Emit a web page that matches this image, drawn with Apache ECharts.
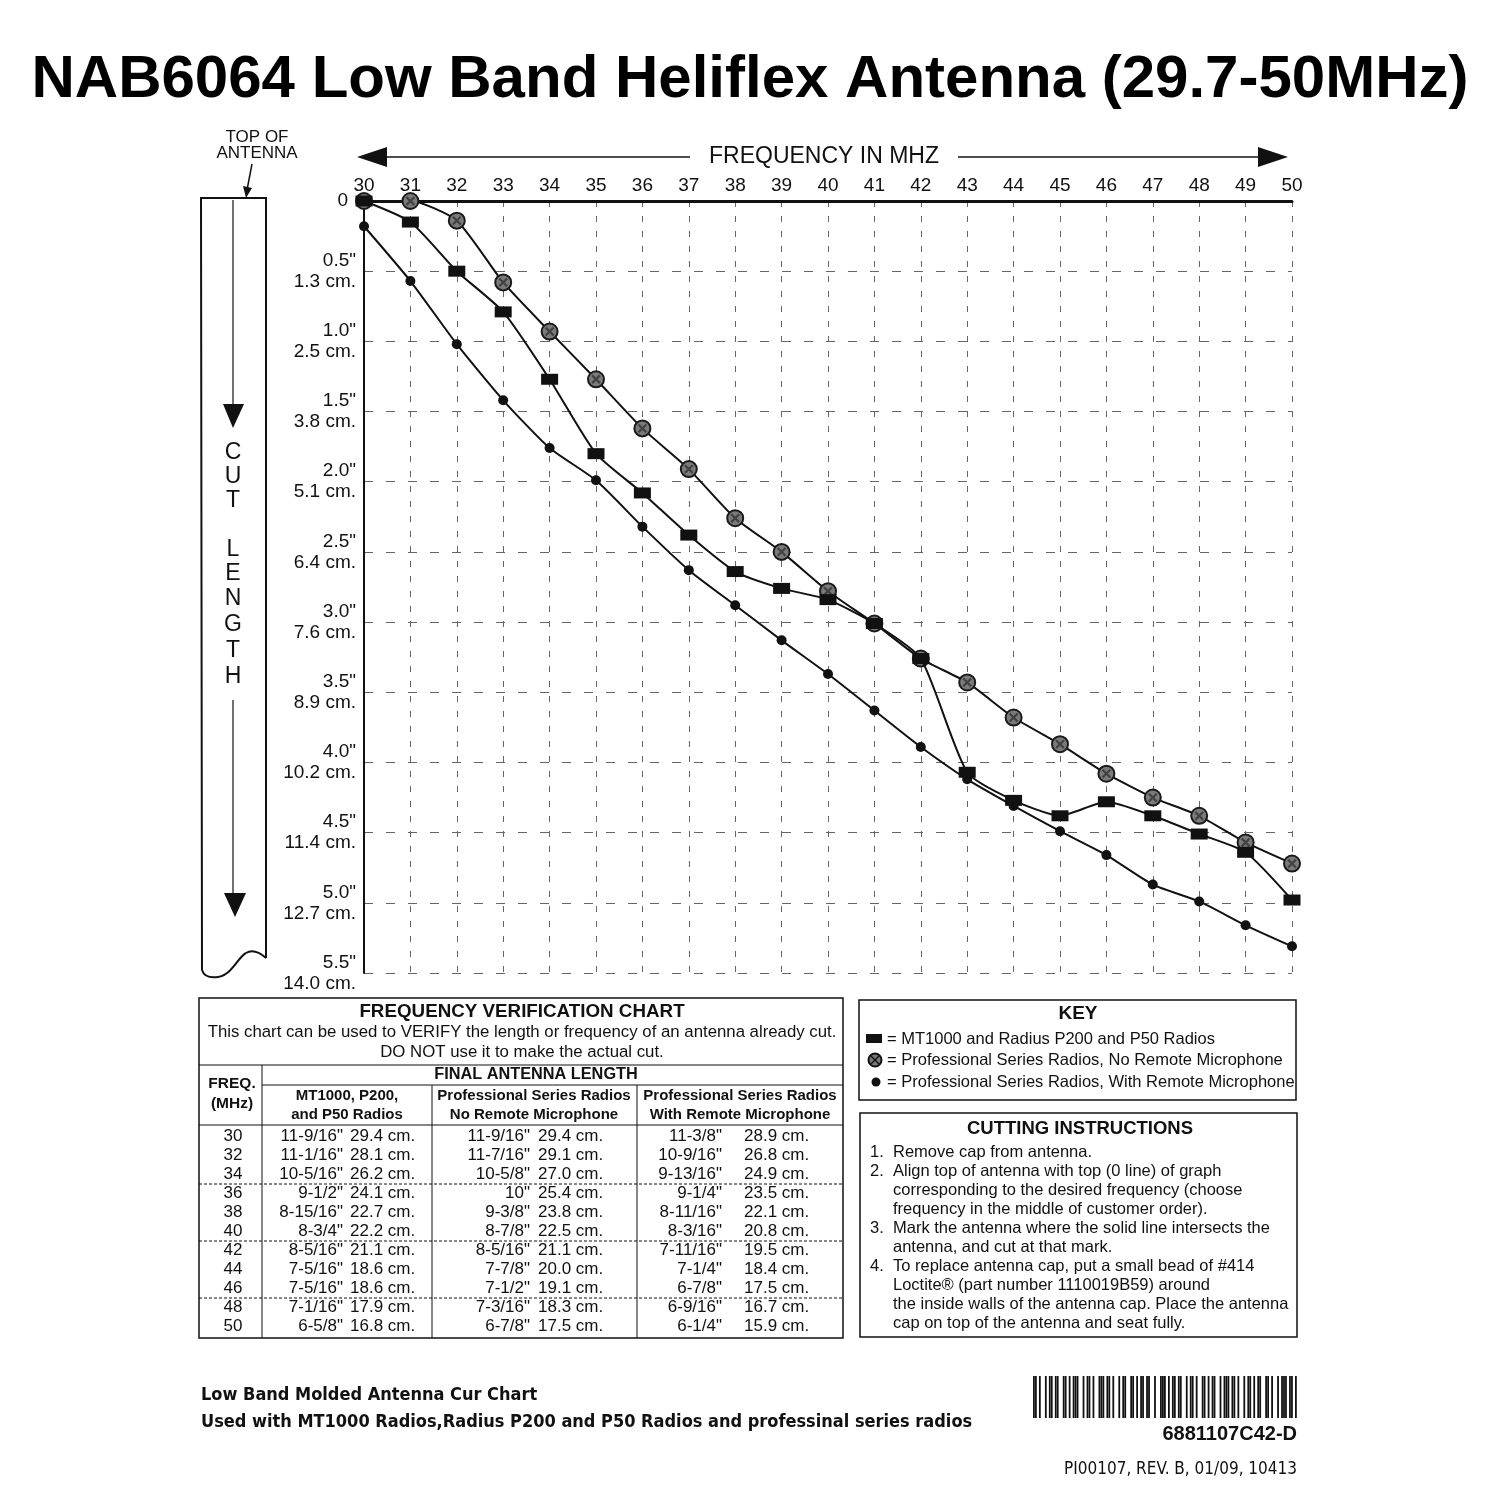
<!DOCTYPE html>
<html><head><meta charset="utf-8">
<script src="https://cdn.jsdelivr.net/npm/echarts/dist/echarts.min.js"></script>
<style>html,body{margin:0;padding:0;background:#fff}#c{width:1500px;height:1500px}</style>
</head><body><div id="c"></div>
<script>
// ---------- DATA ----------
const freqs = [30,31,32,33,34,35,36,37,38,39,40,41,42,43,44,45,46,47,48,49,50];
// cut length in inches
const mt1000     = [0.00,0.15,0.50,0.79,1.27,1.80,2.08,2.38,2.64,2.76,2.84,3.01,3.26,4.07,4.27,4.38,4.28,4.38,4.51,4.64,4.98];
const noRemote   = [0.00,0.00,0.14,0.58,0.93,1.27,1.62,1.91,2.26,2.50,2.78,3.01,3.26,3.43,3.68,3.87,4.08,4.25,4.38,4.57,4.72];
const withRemote = [0.18,0.57,1.02,1.42,1.76,1.99,2.32,2.63,2.88,3.13,3.37,3.63,3.89,4.12,4.31,4.49,4.66,4.87,4.99,5.16,5.31];
const yTickInch = ['0','0.5"','1.0"','1.5"','2.0"','2.5"','3.0"','3.5"','4.0"','4.5"','5.0"','5.5"'];
const yTickCm   = ['','1.3 cm.','2.5 cm.','3.8 cm.','5.1 cm.','6.4 cm.','7.6 cm.','8.9 cm.','10.2 cm.','11.4 cm.','12.7 cm.','14.0 cm.'];
// verification table
const tableFreq = ['30','32','34','36','38','40','42','44','46','48','50'];
const mtIn = ['11-9/16"','11-1/16"','10-5/16"','9-1/2"','8-15/16"','8-3/4"','8-5/16"','7-5/16"','7-5/16"','7-1/16"','6-5/8"'];
const mtCm = ['29.4 cm.','28.1 cm.','26.2 cm.','24.1 cm.','22.7 cm.','22.2 cm.','21.1 cm.','18.6 cm.','18.6 cm.','17.9 cm.','16.8 cm.'];
const nrIn = ['11-9/16"','11-7/16"','10-5/8"','10"','9-3/8"','8-7/8"','8-5/16"','7-7/8"','7-1/2"','7-3/16"','6-7/8"'];
const nrCm = ['29.4 cm.','29.1 cm.','27.0 cm.','25.4 cm.','23.8 cm.','22.5 cm.','21.1 cm.','20.0 cm.','19.1 cm.','18.3 cm.','17.5 cm.'];
const wrIn = ['11-3/8"','10-9/16"','9-13/16"','9-1/4"','8-11/16"','8-3/16"','7-11/16"','7-1/4"','6-7/8"','6-9/16"','6-1/4"'];
const wrCm = ['28.9 cm.','26.8 cm.','24.9 cm.','23.5 cm.','22.1 cm.','20.8 cm.','19.5 cm.','18.4 cm.','17.5 cm.','16.7 cm.','15.9 cm.'];
const keyLabels = ['= MT1000 and Radius P200 and P50 Radios','= Professional Series Radios, No Remote Microphone','= Professional Series Radios, With Remote Microphone'];
const instructions = [
  ['1.','Remove cap from antenna.'],
  ['2.','Align top of antenna with top (0 line) of graph'],
  ['','corresponding to the desired frequency (choose'],
  ['','frequency in the middle of customer order).'],
  ['3.','Mark the antenna where the solid line intersects the'],
  ['','antenna, and cut at that mark.'],
  ['4.','To replace antenna cap, put a small bead of #414'],
  ['','Loctite\u00AE (part number 1110019B59) around'],
  ['','the inside walls of the antenna cap. Place the antenna'],
  ['','cap on top of the antenna and seat fully.']
];
const barcodeModules = '1101001011011001101011100101101001110110100101100110101101100100111010110110010110100110101100101110110100101101011001101001011101101';

// ---------- DRAWING ----------
const F = '"Liberation Sans", Arial, sans-serif';
const FN = '"Liberation Sans Narrow", "DejaVu Sans Condensed", "Liberation Sans", sans-serif';
const INK = '#111';
const G = [];
function txt(x,y,s,font,align,va,fill){
  align = align||'left'; va = va||'middle';
  G.push({type:'text',x:x,y:y,silent:true,z:10,style:{text:s,font:font,fill:fill||INK,align:align,textAlign:align,verticalAlign:va,textVerticalAlign:va}});
}
function ln(x1,y1,x2,y2,w,dash){
  G.push({type:'line',silent:true,z:10,shape:{x1:x1,y1:y1,x2:x2,y2:y2},style:{stroke:INK,lineWidth:w||1.5,lineDash:dash||null}});
}
function poly(pts,fill){
  G.push({type:'polygon',silent:true,z:10,shape:{points:pts},style:{fill:fill||INK}});
}
function box(x,y,w,h,lw){
  G.push({type:'rect',silent:true,z:10,shape:{x:x,y:y,width:w,height:h},style:{fill:null,stroke:INK,lineWidth:lw||1.5}});
}
function bez(x1,y1,c1x,c1y,c2x,c2y,x2,y2,w){
  G.push({type:'bezierCurve',silent:true,z:10,shape:{x1:x1,y1:y1,cpx1:c1x,cpy1:c1y,cpx2:c2x,cpy2:c2y,x2:x2,y2:y2},style:{stroke:INK,fill:null,lineWidth:w||2}});
}

// title
txt(750,80,'NAB6064 Low Band Heliflex Antenna (29.7-50MHz)','bold 60px '+F,'center','middle','#000');

// frequency arrow
ln(385,157,690,157,1.5); ln(958,157,1262,157,1.5);
poly([[357,157],[387,147],[387,167]]);
poly([[1288,157],[1258,147],[1258,167]]);
txt(824,157,'FREQUENCY IN MHZ','23px '+F,'center','middle');

// top of antenna
txt(257,137,'TOP OF','17px '+F,'center','middle');
txt(257,153,'ANTENNA','17px '+F,'center','middle');
ln(252,164,247,190,1.5);
poly([[243,186],[252,188],[246,198]]);

// antenna strip
G.push({type:'polyline',silent:true,z:10,shape:{points:[[202,970],[201,198],[266,198],[266,958]]},style:{stroke:INK,fill:null,lineWidth:2}});
bez(266,958,258,951,251,950,246,953);
bez(246,953,238,957,232,975,218,977);
bez(218,977,210,978,204,977,202,970);
ln(233,200,233,408,1.2);
poly([[223,404],[244,404],[233,428]]);
ln(233,700,233,896,1.2);
poly([[224,893],[246,893],[235,917]]);
const cutLetters = [['C',453],['U',477],['T',501],['L',550],['E',574],['N',599],['G',625],['T',651],['H',677]];
cutLetters.forEach(function(c){ txt(233,c[1],c[0],'23px '+F,'center','middle'); });

// verification table
box(199,998,644,340,1.5);
txt(522,1012,'FREQUENCY VERIFICATION CHART','bold 18.8px '+F,'center','middle');
txt(522,1032,'This chart can be used to VERIFY the length or frequency of an antenna already cut.','16.8px '+F,'center','middle');
txt(522,1052,'DO NOT use it to make the actual cut.','16.8px '+F,'center','middle');
ln(199,1065,843,1065,1.2);
txt(536,1075,'FINAL ANTENNA LENGTH','bold 16.3px '+F,'center','middle');
ln(262,1085,843,1085,1);
txt(232,1084,'FREQ.','bold 15.5px '+F,'center','middle');
txt(232,1104,'(MHz)','bold 15.5px '+F,'center','middle');
txt(347,1096,'MT1000, P200,','bold 15px '+F,'center','middle');
txt(347,1115,'and P50 Radios','bold 15px '+F,'center','middle');
txt(534,1096,'Professional Series Radios','bold 15px '+F,'center','middle');
txt(534,1115,'No Remote Microphone','bold 15px '+F,'center','middle');
txt(740,1096,'Professional Series Radios','bold 15px '+F,'center','middle');
txt(740,1115,'With Remote Microphone','bold 15px '+F,'center','middle');
ln(199,1125,843,1125,1.2);
ln(262,1065,262,1338,1);
ln(432,1085,432,1338,1);
ln(637,1085,637,1338,1);
[1184,1241,1298].forEach(function(y){ ln(199,y,843,y,1,[3,2]); });
tableFreq.forEach(function(f,i){
  const y = 1136 + i*19;
  const fnt = '17px '+F;
  txt(233,y,f,fnt,'center');
  txt(343,y,mtIn[i],fnt,'right'); txt(350,y,mtCm[i],fnt,'left');
  txt(530,y,nrIn[i],fnt,'right'); txt(538,y,nrCm[i],fnt,'left');
  txt(722,y,wrIn[i],fnt,'right'); txt(744,y,wrCm[i],fnt,'left');
});

// key
box(859,1000,437,100,1.5);
txt(1078,1014,'KEY','bold 19px '+F,'center','middle');
G.push({type:'rect',silent:true,z:10,shape:{x:866,y:1034,width:16,height:9},style:{fill:INK}});
G.push({type:'circle',silent:true,z:10,shape:{cx:875,cy:1060,r:6.5},style:{fill:'#777',stroke:INK,lineWidth:2}});
ln(871,1056,879,1064,1.2); ln(879,1056,871,1064,1.2);
G.push({type:'circle',silent:true,z:10,shape:{cx:876,cy:1082,r:4.5},style:{fill:INK}});
keyLabels.forEach(function(s,i){ txt(887,1039+i*21.5,s,'16.5px '+F,'left','middle'); });

// cutting instructions
box(860,1113,437,224,1.5);
txt(1080,1129,'CUTTING INSTRUCTIONS','bold 18.5px '+F,'center','middle');
instructions.forEach(function(r,i){
  const y = 1152 + i*19;
  if (r[0]) txt(870,y,r[0],'16.5px '+F,'left','middle');
  txt(893,y,r[1],'16.5px '+F,'left','middle');
});

// footer
txt(201,1395,'Low Band Molded Antenna Cur Chart','bold 18px '+FN,'left','middle');
txt(201,1422,'Used with MT1000 Radios,Radius P200 and P50 Radios and professinal series radios','bold 18px '+FN,'left','middle');
(function(){
  const x0 = 1033, w = 264, mw = w / barcodeModules.length;
  for (let i=0;i<barcodeModules.length;i++){
    if (barcodeModules[i]==='1') G.push({type:'rect',silent:true,z:10,shape:{x:x0+i*mw,y:1376,width:mw*0.9,height:42},style:{fill:INK}});
  }
})();
txt(1297,1434,'6881107C42-D','bold 20px '+F,'right','middle');
txt(1297,1470,'PI00107, REV. B, 01/09, 10413','17px '+FN,'right','middle');

// ---------- CHART ----------
const chart = echarts.init(document.getElementById('c'), null, {renderer:'canvas'});
const pairs = function(arr){ return freqs.map(function(f,i){ return [f, arr[i]]; }); };
chart.setOption({
  animation:false,
  backgroundColor:'#fff',
  grid:{left:364, top:201, width:928, height:772, containLabel:false},
  xAxis:{type:'value', position:'top', min:30, max:50, interval:1,
    axisLine:{show:true, onZero:false, lineStyle:{color:INK, width:3}},
    axisTick:{show:false},
    axisLabel:{margin:6, fontSize:19, color:INK, fontFamily:F},
    splitLine:{show:true, lineStyle:{color:'#666', width:1, type:[6,9]}}},
  yAxis:{type:'value', inverse:true, min:0, max:5.5, interval:0.5,
    axisLine:{show:true, onZero:false, lineStyle:{color:INK, width:2}},
    axisTick:{show:false},
    axisLabel:{margin:8, fontSize:19, lineHeight:21, color:INK, fontFamily:F, align:'right',
      rich:{z:{fontSize:19, fontFamily:F, color:INK, padding:[0,8,0,0]}},
      formatter:function(v){ const i = Math.round(v/0.5); return yTickCm[i] ? yTickInch[i]+'\n'+yTickCm[i] : '{z|'+yTickInch[i]+'}'; }},
    splitLine:{show:true, lineStyle:{color:'#666', width:1, type:[9,13]}}},
  series:[
    {name:'With Remote', type:'line', data:pairs(withRemote), smooth:0.2,
      lineStyle:{color:INK, width:2}, symbol:'circle', symbolSize:10, itemStyle:{color:INK}, z:3},
    {name:'No Remote', type:'line', data:pairs(noRemote), smooth:0.2,
      lineStyle:{color:INK, width:2}, symbol:'circle', symbolSize:16, itemStyle:{color:'#7a7a7a', borderColor:'#1a1a1a', borderWidth:2}, z:4},
    {name:'No Remote cross', type:'scatter', data:pairs(noRemote), symbol:'path://M0,4 L10,4 L10,6 L0,6 Z M4,0 L6,0 L6,10 L4,10 Z',
      symbolSize:11, symbolRotate:45, itemStyle:{color:'#333'}, z:5, silent:true},
    {name:'MT1000', type:'line', data:pairs(mt1000), smooth:0.2,
      lineStyle:{color:INK, width:2}, symbol:'rect', symbolSize:[17,11], itemStyle:{color:INK}, z:6}
  ],
  graphic:{elements:G}
});
</script>
</body></html>
